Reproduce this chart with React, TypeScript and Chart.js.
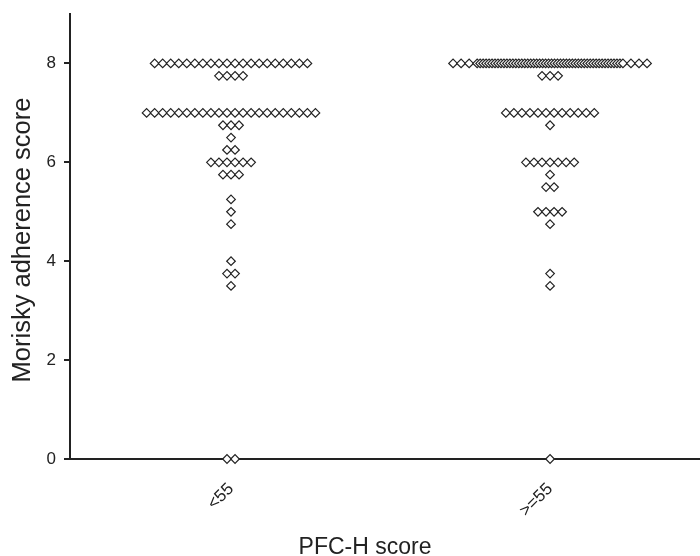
import { useEffect, useRef } from 'react';
import { Chart, registerables } from 'chart.js';

Chart.register(...registerables);

const categories = ['<55', '>=55'];
const scoreLevels = [8, 7.75, 7, 6.75, 6.5, 6.25, 6, 5.75, 5.5, 5.25, 5, 4.75, 4, 3.75, 3.5, 0];
const countsLow = [20, 4, 22, 3, 1, 2, 6, 3, 0, 1, 1, 1, 1, 2, 1, 2];
const countsHigh = [56, 3, 12, 1, 0, 0, 7, 1, 2, 0, 4, 1, 0, 1, 1, 1];
const yTicks = [0, 2, 4, 6, 8];
const xTitle = 'PFC-H score';
const yTitle = 'Morisky adherence score';

const FONT = "'Liberation Sans', Arial, sans-serif";
const INK = '#222222';
const STEP = 0.0252;
const MAX_HALF = 0.304;
const EDGE = 4;

function rowOffsets(n: number): number[] {
  const natural = (n - 1) * STEP;
  if (natural <= 2 * MAX_HALF) {
    return Array.from({ length: n }, (_, i) => (i - (n - 1) / 2) * STEP);
  }
  const left = -MAX_HALF;
  const right = MAX_HALF;
  const inner0 = left + (EDGE - 1) * STEP;
  const inner1 = right - (EDGE - 1) * STEP;
  const m = n - 2 * (EDGE - 1);
  return Array.from({ length: n }, (_, i) => {
    if (i < EDGE - 1) return left + i * STEP;
    if (i > n - EDGE) return right - (n - 1 - i) * STEP;
    return inner0 + (i - (EDGE - 1)) * ((inner1 - inner0) / (m - 1));
  });
}

function buildPoints(groupIndex: number, counts: number[]) {
  const pts: { x: number; y: number }[] = [];
  scoreLevels.forEach((score, k) => {
    const n = counts[k];
    if (!n) return;
    rowOffsets(n).forEach((off) => pts.push({ x: groupIndex + off, y: score }));
  });
  return pts;
}

const titlePlugin = {
  id: 'manualTitles',
  afterDraw(chart: any) {
    const ctx = chart.ctx;
    ctx.save();
    ctx.fillStyle = INK;
    ctx.textAlign = 'center';
    ctx.textBaseline = 'alphabetic';
    ctx.font = `23px ${FONT}`;
    ctx.fillText(xTitle, 365, 554);
    ctx.font = `25.5px ${FONT}`;
    ctx.translate(30, 240);
    ctx.rotate(-Math.PI / 2);
    ctx.fillText(yTitle, 0, 0);
    ctx.restore();
  },
};

function zeroPad(scale: any) {
  scale.paddingLeft = 0;
  scale.paddingRight = 0;
  scale.paddingTop = 0;
  scale.paddingBottom = 0;
}

export default function App() {
  const ref = useRef<HTMLCanvasElement | null>(null);

  useEffect(() => {
    if (!ref.current) return;
    const pointStyle = {
      pointStyle: 'rectRot' as const,
      pointRadius: 4.3,
      pointBorderWidth: 1.2,
      pointBorderColor: INK,
      pointBackgroundColor: '#ffffff',
      pointHoverRadius: 4.3,
      clip: false as const,
      showLine: false,
    };
    const chart = new Chart(ref.current, {
      type: 'scatter',
      data: {
        datasets: [
          { label: categories[0], data: buildPoints(0, countsLow), ...pointStyle },
          { label: categories[1], data: buildPoints(1, countsHigh), ...pointStyle },
        ],
      },
      options: {
        animation: false,
        responsive: true,
        maintainAspectRatio: false,
        layout: { autoPadding: false, padding: { top: 14, right: 0, left: 0, bottom: 0 } },
        plugins: { legend: { display: false }, tooltip: { enabled: false } },
        scales: {
          x: {
            type: 'linear',
            min: -0.5047,
            max: 1.47,
            afterBuildTicks: (scale: any) => {
              scale.ticks = categories.map((_, i) => ({ value: i }));
            },
            afterFit: (scale: any) => {
              scale.height = 97;
              zeroPad(scale);
            },
            ticks: {
              autoSkip: false,
              minRotation: 45,
              maxRotation: 45,
              padding: 20,
              color: INK,
              font: { family: FONT, size: 17 },
              callback: (v: any) => categories[v] ?? '',
            },
            grid: { display: true, drawOnChartArea: false, drawTicks: false },
            border: { display: true, color: INK, width: 2 },
          },
          y: {
            type: 'linear',
            min: 0,
            max: 9,
            afterBuildTicks: (scale: any) => {
              scale.ticks = yTicks.map((v) => ({ value: v }));
            },
            afterFit: (scale: any) => {
              scale.width = 70;
              zeroPad(scale);
            },
            ticks: {
              padding: 8,
              color: INK,
              font: { family: FONT, size: 17 },
            },
            grid: {
              drawOnChartArea: false,
              drawTicks: true,
              tickLength: 6,
              color: INK,
              lineWidth: 2,
            },
            border: { display: true, color: INK, width: 2 },
          },
        },
      },
      plugins: [titlePlugin],
    });
    return () => chart.destroy();
  }, []);

  return (
    <div style={{ position: 'absolute', left: 0, top: 0, width: 700, height: 556, background: '#fff' }}>
      <canvas ref={ref} />
    </div>
  );
}
